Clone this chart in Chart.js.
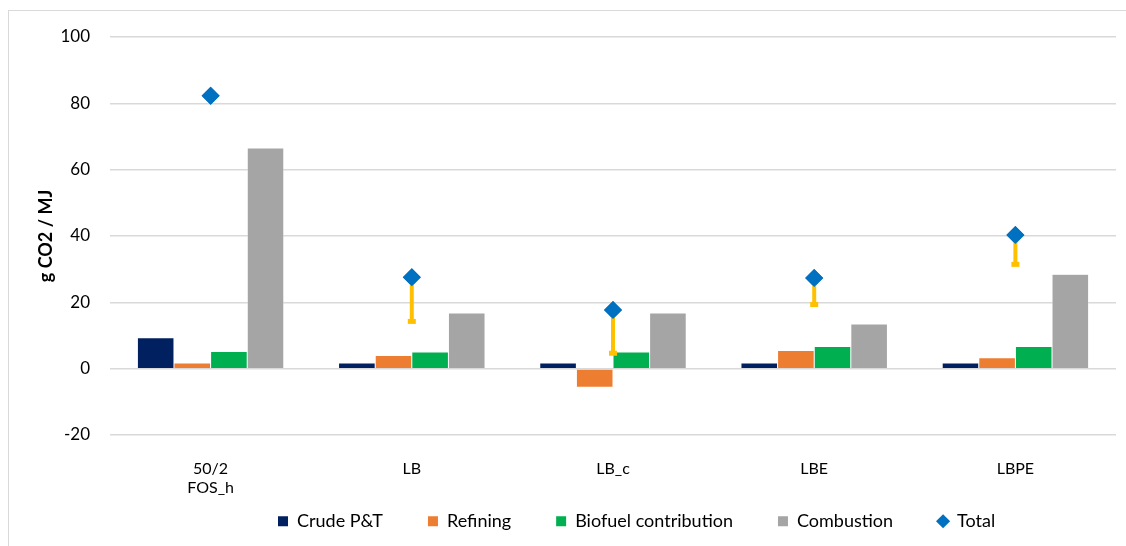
<!DOCTYPE html>
<html>
<head>
<meta charset="utf-8">
<script src="https://cdn.jsdelivr.net/npm/chart.js@4"></script>
<style>
html,body{margin:0;padding:0;background:#fff;overflow:hidden;}
#frame{position:absolute;left:8px;top:10px;width:1130px;height:560px;border:1px solid #D9D9D9;box-sizing:border-box;}
#wrap{position:absolute;left:0;top:0;width:1126px;height:546px;}
</style>
</head>
<body>
<div id="frame"></div>
<div id="wrap"><canvas id="c" width="1126" height="546"></canvas></div>
<script>
const categories = [["50/2","FOS_h"], "LB", "LB_c", "LBE", "LBPE"];
const crudePT = [9.3, 1.7, 1.7, 1.7, 1.7];
const refining = [1.7, 4.0, -5.6, 5.5, 3.3];
const biofuel = [5.2, 5.0, 5.0, 6.7, 6.7];
const combustion = [66.5, 16.8, 16.8, 13.5, 28.5];
const total = [82.3, 27.6, 17.7, 27.3, 40.3];
const totalLow = [null, 14.1, 4.5, 19.2, 31.3];
const yTicks = [-20, 0, 20, 40, 60, 80, 100];

const FONT = "Lato, 'Open Sans', sans-serif";
const LEGEND_PAD = 45;

const layoutPlugin = {
  id: 'layoutTweaks',
  beforeLayout(chart) {
    const lg = chart.legend;
    if (lg && !lg._patched) {
      const orig = lg.fit;
      lg.fit = function(){ orig.call(this); this.height = 32.6; };
      lg._patched = true;
    }
  },
  afterLayout(chart) {
    const lg = chart.legend;
    if (!lg) return;
    const itemH = 18 * 1.2;
    lg.top = 523 - LEGEND_PAD - itemH / 2;
    lg.bottom = chart.height;
    lg.height = lg.bottom - lg.top;
    const start = (lg.left + LEGEND_PAD + lg.right - lg.lineWidths[0]) / 2;
    const dx = 278 - start;
    lg.left += dx; lg.right += dx;
  },
  afterDatasetsDraw(chart) {
    const ctx = chart.ctx;
    const x = chart.scales.x, y = chart.scales.y;
    ctx.save();
    ctx.strokeStyle = '#FFC000';
    ctx.fillStyle = '#FFC000';
    ctx.lineWidth = 4;
    totalLow.forEach((lo, i) => {
      if (lo === null) return;
      const px = x.getPixelForValue(i);
      const top = y.getPixelForValue(total[i]);
      const bot = y.getPixelForValue(lo);
      ctx.beginPath();
      ctx.moveTo(px, top);
      ctx.lineTo(px, bot);
      ctx.stroke();
      ctx.fillRect(px - 4, bot - 3, 8, 5);
    });
    ctx.restore();
    const meta = chart.getDatasetMeta(4);
    meta.data.forEach(el => el.draw(ctx));
  }
};

new Chart(document.getElementById('c'), {
  data: {
    labels: categories,
    datasets: [
      {type:'bar', label:'Crude P&T', data: crudePT, backgroundColor:'#002060', borderColor:'rgba(255,255,255,0.6)', borderWidth:0.5, order:2},
      {type:'bar', label:'Refining', data: refining, backgroundColor:'#ED7D31', borderColor:'rgba(255,255,255,0.6)', borderWidth:0.5, order:2},
      {type:'bar', label:'Biofuel contribution', data: biofuel, backgroundColor:'#00B050', borderColor:'rgba(255,255,255,0.6)', borderWidth:0.5, order:2},
      {type:'bar', label:'Combustion', data: combustion, backgroundColor:'#A5A5A5', borderColor:'rgba(255,255,255,0.6)', borderWidth:0.5, order:2},
      {type:'line', label:'Total', data: total, showLine:false, pointStyle:'rectRot', pointRadius:9, pointHoverRadius:9,
       backgroundColor:'#0070C0', borderColor:'#0070C0', borderWidth:0, order:1}
    ]
  },
  options: {
    responsive:false,
    animation:false,
    events:[],
    layout:{padding:{left:35, right:10, top:37, bottom:0}},
    datasets:{bar:{categoryPercentage:0.728, barPercentage:1.0}},
    scales:{
      x:{
        grid:{display:false},
        border:{display:false},
        ticks:{color:'#000', font:{family:FONT, size:16, lineHeight:1.2}, padding:16}
      },
      y:{
        min:-20, max:100,
        afterBuildTicks(axis){ axis.ticks = yTicks.map(v => ({value:v})); },
        afterFit(axis){ axis.width = 75; },
        grid:{color:'#D9D9D9', lineWidth:1.5, drawTicks:false},
        border:{display:false},
        ticks:{color:'#000', font:{family:FONT, size:17}, padding:20},
        title:{display:true, text:'g CO2 / MJ', color:'#000', font:{family:FONT, size:18, weight:'bold', lineHeight:1.2}, padding:{top:0, bottom:4}}
      }
    },
    plugins:{
      legend:{
        position:'bottom',
        labels:{
          usePointStyle:true, boxWidth:10, boxHeight:10, padding:LEGEND_PAD, color:'#000',
          font:{family:FONT, size:18, lineHeight:1.2},
          generateLabels(chart){
            return chart.data.datasets.map((ds,i)=>({
              text: ds.label, fillStyle: ds.backgroundColor, strokeStyle: ds.backgroundColor, lineWidth:0,
              pointStyle: i===4 ? 'rectRot' : 'rect', datasetIndex:i, hidden:false
            }));
          }
        }
      },
      tooltip:{enabled:false}
    }
  },
  plugins:[layoutPlugin]
});
</script>
</body>
</html>
